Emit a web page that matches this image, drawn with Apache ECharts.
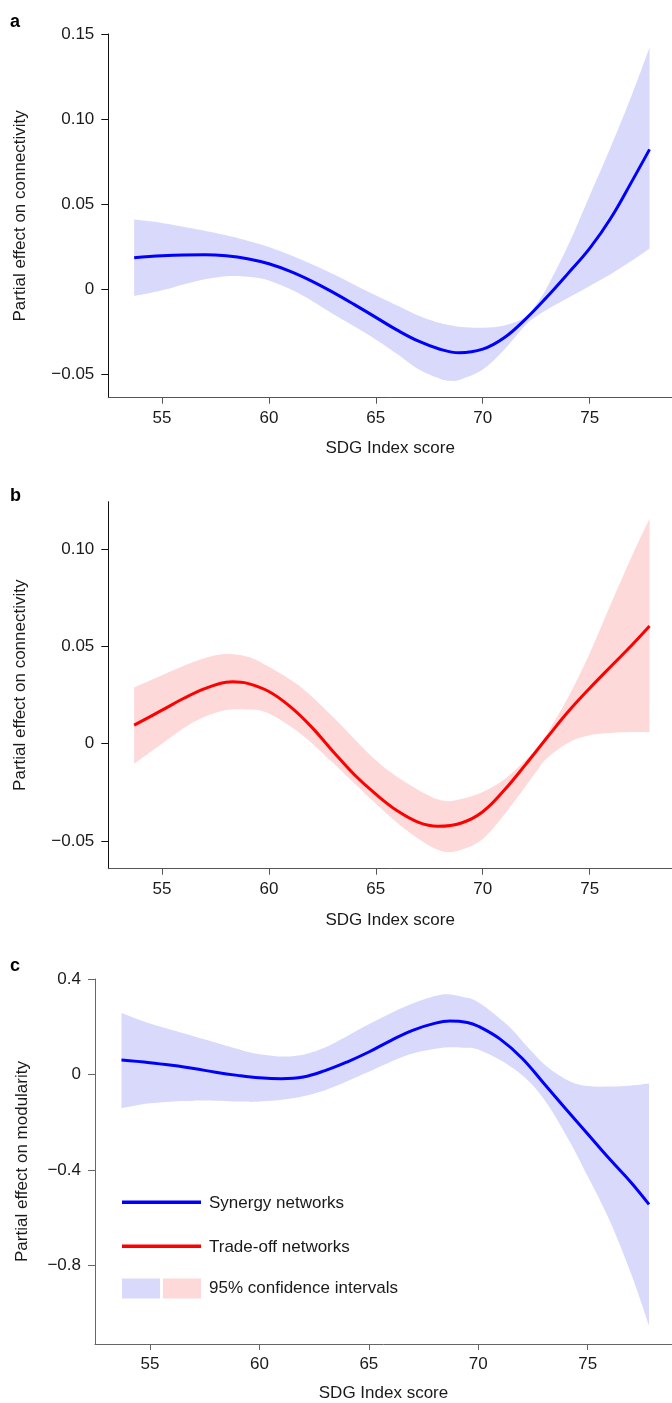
<!DOCTYPE html>
<html>
<head>
<meta charset="utf-8">
<script src="https://cdn.jsdelivr.net/npm/echarts@6/dist/echarts.min.js"></script>
<style>
  html, body { margin: 0; padding: 0; background: #fff; }
  #chart { width: 672px; height: 1403px; }
</style>
</head>
<body>
<div id="chart"></div>
<script>
// x axis (SDG Index score)
var xTicks = [55, 60, 65, 70, 75];

// panel a: synergy networks, connectivity
var aBandX = [53.7, 55, 56.5, 58, 59, 60, 61.5, 63, 64.5, 66, 67, 68, 68.5, 69, 70, 71, 72, 72.5, 73, 74, 75, 76, 77, 77.8];
var aUpper = [0.041, 0.039, 0.0355, 0.0317, 0.0285, 0.0248, 0.0175, 0.009, -0.0005, -0.0095, -0.0155, -0.0198, -0.0212, -0.0222, -0.0226, -0.0213, -0.0165, -0.009, 0.001, 0.026, 0.055, 0.084, 0.115, 0.142];
var aLower = [-0.004, -0.0006, 0.0045, 0.0076, 0.0074, 0.0052, -0.003, -0.0145, -0.0255, -0.038, -0.047, -0.0525, -0.0538, -0.0528, -0.0472, -0.0355, -0.021, -0.016, -0.012, -0.005, 0.002, 0.009, 0.017, 0.024];
var aLineX = [53.7, 55, 56, 57, 58, 59, 60, 61, 62, 63, 64, 65, 66, 67, 68, 68.9, 70, 71, 72, 73, 74, 75, 76, 77, 77.8];
var aLine = [0.0186, 0.0197, 0.0202, 0.0203, 0.0197, 0.018, 0.015, 0.0105, 0.0048, -0.0018, -0.009, -0.0165, -0.024, -0.0305, -0.0352, -0.0373, -0.0352, -0.0285, -0.0175, -0.0045, 0.0095, 0.024, 0.042, 0.064, 0.0822];
var aYTicks = [-0.05, 0, 0.05, 0.10, 0.15];
var aYLabels = ['\u22120.05', '0', '0.05', '0.10', '0.15'];

// panel b: trade-off networks, connectivity
var bBandX = [53.7, 55, 56.5, 57.8, 59, 60, 61.5, 63, 65, 66.5, 68, 69, 70, 71, 72, 72.5, 73, 74, 75, 76, 77, 77.8];
var bUpper = [0.0289, 0.0352, 0.0421, 0.0459, 0.0447, 0.0395, 0.029, 0.0137, -0.0086, -0.0206, -0.029, -0.0284, -0.0249, -0.0185, -0.0085, -0.003, 0.005, 0.024, 0.0464, 0.072, 0.097, 0.1156];
var bLower = [-0.0103, 0.0, 0.0112, 0.0168, 0.0175, 0.0155, 0.005, -0.010, -0.0309, -0.045, -0.055, -0.0545, -0.049, -0.0365, -0.022, -0.0145, -0.0075, 0.0005, 0.0043, 0.0055, 0.006, 0.006];
var bLineX = [53.7, 55, 56, 57, 58, 58.3, 59, 60, 61, 62, 63, 64, 65, 66, 67, 67.9, 69, 70, 71, 72, 73, 74, 75, 76, 77, 77.8];
var bLine = [0.0095, 0.0172, 0.0232, 0.0283, 0.0316, 0.0318, 0.031, 0.0268, 0.019, 0.0085, -0.004, -0.016, -0.026, -0.0345, -0.0405, -0.0425, -0.0408, -0.035, -0.024, -0.0108, 0.003, 0.0165, 0.0285, 0.0398, 0.051, 0.0605];
var bYTicks = [-0.05, 0, 0.05, 0.10];
var bYLabels = ['\u22120.05', '0', '0.05', '0.10'];

// panel c: synergy networks, modularity
var cBandX = [53.7, 55, 57, 59, 60, 61.5, 63, 65, 66.8, 68.3, 69.3, 70, 71.3, 72.3, 73.2, 74.2, 75, 76, 77, 77.8];
var cUpper = [0.257, 0.213, 0.16, 0.107, 0.085, 0.076, 0.113, 0.21, 0.29, 0.334, 0.325, 0.303, 0.21, 0.11, 0.028, -0.03, -0.049, -0.051, -0.046, -0.038];
var cLower = [-0.142, -0.121, -0.11, -0.114, -0.114, -0.1, -0.066, 0.011, 0.082, 0.111, 0.112, 0.104, 0.044, -0.028, -0.13, -0.285, -0.427, -0.612, -0.84, -1.053];
var cLineX = [53.7, 55, 56, 57, 58, 59, 60, 61, 62, 63, 64, 65, 66, 67, 68, 68.7, 69.5, 70, 71, 72, 73, 74, 75, 76, 77, 77.8];
var cLine = [0.06, 0.049, 0.038, 0.025, 0.009, -0.004, -0.014, -0.018, -0.011, 0.016, 0.052, 0.094, 0.142, 0.185, 0.214, 0.224, 0.218, 0.202, 0.148, 0.068, -0.038, -0.145, -0.25, -0.355, -0.455, -0.545];
var cYTicks = [-0.8, -0.4, 0, 0.4];
var cYLabels = ['\u22120.8', '\u22120.4', '0', '0.4'];

var BLUE = '#0000ff', RED = '#ff0000';
var BLUE_CI = '#d9d9fb', RED_CI = '#fdd9d9';
var FONT = '"Liberation Sans", Arial, Helvetica, sans-serif';

function pairs(xs, ys) {
	return xs.map(function(x, i) { return [x, ys[i]]; });
}
function lookup(ticks, labels) {
	return function(v) {
		for (var i = 0; i < ticks.length; i++) {
			if (Math.abs(ticks[i] - v) < 1e-6) return labels[i];
		}
		return '';
	};
}
// catmull-rom through pixel points -> svg curve commands (no leading M)
function spline(pts) {
	var s = '';
	for (var i = 0; i < pts.length - 1; i++) {
		var p0 = pts[Math.max(i - 1, 0)], p1 = pts[i], p2 = pts[i + 1], p3 = pts[Math.min(i + 2, pts.length - 1)];
		var c1x = p1[0] + (p2[0] - p0[0]) / 6, c1y = p1[1] + (p2[1] - p0[1]) / 6;
		var c2x = p2[0] - (p3[0] - p1[0]) / 6, c2y = p2[1] - (p3[1] - p1[1]) / 6;
		s += ' C' + c1x + ' ' + c1y + ' ' + c2x + ' ' + c2y + ' ' + p2[0] + ' ' + p2[1];
	}
	return s;
}

function xAxisFor(gi, lineColor, gap) {
	return {
		type: 'value', gridIndex: gi, min: 52.49, max: 78.85,
		name: 'SDG Index score', nameLocation: 'middle', nameGap: gap,
		nameTextStyle: { fontFamily: FONT, fontSize: 17, color: '#1a1a1a' },
		axisLine: { show: true, onZero: false, lineStyle: { color: lineColor, width: 1 } },
		axisTick: { show: true, length: 6, customValues: xTicks, lineStyle: { color: lineColor } },
		axisLabel: { customValues: xTicks, margin: 12, fontFamily: FONT, fontSize: 17, color: '#1a1a1a' },
		splitLine: { show: false }
	};
}
function yAxisFor(gi, min, max, ticks, labels, name, gap, lineColor) {
	return {
		type: 'value', gridIndex: gi, min: min, max: max,
		name: name, nameLocation: 'middle', nameGap: gap,
		nameTextStyle: { fontFamily: FONT, fontSize: 17, color: '#1a1a1a' },
		axisLine: { show: true, onZero: false, lineStyle: { color: lineColor, width: 1 } },
		axisTick: { show: true, length: 7, customValues: ticks, lineStyle: { color: lineColor } },
		axisLabel: { customValues: ticks, formatter: lookup(ticks, labels), margin: 14, fontFamily: FONT, fontSize: 17, color: '#1a1a1a' },
		splitLine: { show: false }
	};
}
// confidence band: one filled path between the upper and lower edges
function bandSeries(gi, xs, up, lo, color) {
	var rows = xs.map(function(x, i) { return [x, lo[i], up[i]]; });
	return {
		name: '95% confidence intervals',
		type: 'custom', xAxisIndex: gi, yAxisIndex: gi, silent: true, z: 1,
		data: rows, encode: { x: 0, y: [1, 2] },
		renderItem: function(params, api) {
			if (params.dataIndex !== 0) return null;
			var top = rows.map(function(r) { return api.coord([r[0], r[2]]); });
			var bot = rows.map(function(r) { return api.coord([r[0], r[1]]); }).reverse();
			var d = 'M' + top[0][0] + ' ' + top[0][1] + spline(top) +
				' L' + bot[0][0] + ' ' + bot[0][1] + spline(bot) + ' Z';
			return { type: 'path', shape: { pathData: d }, style: { fill: color, stroke: null } };
		}
	};
}
function lineSeries(gi, name, xs, ys, color) {
	return {
		name: name, type: 'line', xAxisIndex: gi, yAxisIndex: gi,
		data: pairs(xs, ys), smooth: 0.4, symbol: 'none', z: 5,
		lineStyle: { color: color, width: 3 }
	};
}

var chart = echarts.init(document.getElementById('chart'), null, { renderer: 'canvas' });

var option = {
	backgroundColor: '#fff',
	animation: false,
	grid: [
		{ left: 108.3, top: 34, right: 0, height: 363.7 },
		{ left: 108.3, top: 501.7, right: 0, height: 367 },
		{ left: 95, top: 979, right: 0, height: 365 }
	],
	xAxis: [
		xAxisFor(0, '#555', 42),
		xAxisFor(1, '#555', 43),
		xAxisFor(2, '#666', 41)
	],
	yAxis: [
		yAxisFor(0, -0.0637, 0.15, aYTicks, aYLabels, 'Partial effect on connectivity', 79, '#111'),
		yAxisFor(1, -0.0643, 0.1244, bYTicks, bYLabels, 'Partial effect on connectivity', 79, '#111'),
		yAxisFor(2, -1.13, 0.4, cYTicks, cYLabels, 'Partial effect on modularity', 64, '#666')
	],
	series: [
		bandSeries(0, aBandX, aUpper, aLower, BLUE_CI),
		lineSeries(0, 'Synergy networks', aLineX, aLine, BLUE),
		bandSeries(1, bBandX, bUpper, bLower, RED_CI),
		lineSeries(1, 'Trade-off networks', bLineX, bLine, RED),
		bandSeries(2, cBandX, cUpper, cLower, BLUE_CI),
		lineSeries(2, 'Synergy networks', cLineX, cLine, BLUE)
	],
	graphic: [
		// panel letters
		{ type: 'text', left: 10, top: 13, style: { text: 'a', font: 'bold 18px ' + FONT, fill: '#000' } },
		{ type: 'text', left: 10, top: 487, style: { text: 'b', font: 'bold 18px ' + FONT, fill: '#000' } },
		{ type: 'text', left: 10, top: 957, style: { text: 'c', font: 'bold 18px ' + FONT, fill: '#000' } },
		// legend inside panel c
		{ type: 'rect', shape: { x: 122, y: 1200.5, width: 79, height: 3.5 }, style: { fill: BLUE } },
		{ type: 'text', x: 209, y: 1203, style: { text: 'Synergy networks', font: '17px ' + FONT, fill: '#1a1a1a', verticalAlign: 'middle' } },
		{ type: 'rect', shape: { x: 122, y: 1244.5, width: 79, height: 3.5 }, style: { fill: RED } },
		{ type: 'text', x: 209, y: 1247, style: { text: 'Trade-off networks', font: '17px ' + FONT, fill: '#1a1a1a', verticalAlign: 'middle' } },
		{ type: 'rect', shape: { x: 122, y: 1278.5, width: 38, height: 20 }, style: { fill: BLUE_CI } },
		{ type: 'rect', shape: { x: 163, y: 1278.5, width: 38, height: 20 }, style: { fill: RED_CI } },
		{ type: 'text', x: 209, y: 1288.5, style: { text: '95% confidence intervals', font: '17px ' + FONT, fill: '#1a1a1a', verticalAlign: 'middle' } }
	]
};
chart.setOption(option);

window.onresize = function() {
	chart.resize();
};
</script>
</body>
</html>
